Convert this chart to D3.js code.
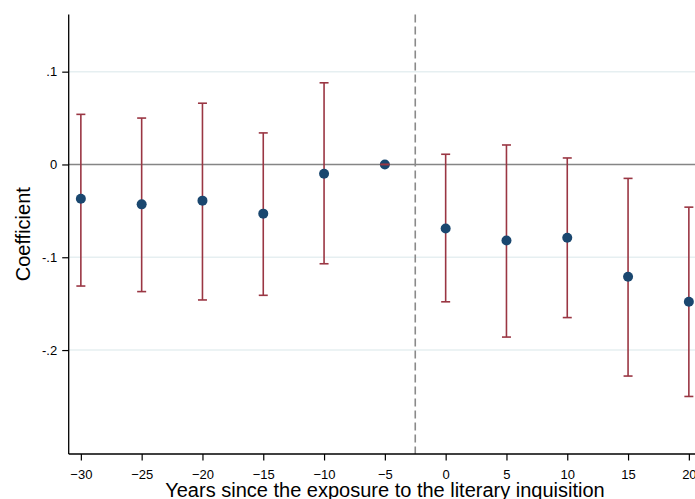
<!DOCTYPE html>
<html>
<head>
<meta charset="utf-8">
<script src="https://cdn.jsdelivr.net/npm/d3@7"></script>
<style>
  body { margin: 0; background: #fff; }
  text { font-family: "Liberation Sans", Arial, sans-serif; }
</style>
</head>
<body>
<div id="chart"></div>
<script>
// event-study estimates
const years  = [-30, -25, -20, -15, -10, -5, 0, 5, 10, 15, 20];
const coef   = [-0.037, -0.043, -0.039, -0.053, -0.010, 0, -0.069, -0.082, -0.079, -0.121, -0.148];
const ciLow  = [-0.131, -0.137, -0.146, -0.141, -0.107, 0, -0.148, -0.186, -0.165, -0.228, -0.250];
const ciHigh = [0.054, 0.050, 0.066, 0.034, 0.088, 0, 0.011, 0.021, 0.007, -0.015, -0.046];
const xTicks = [-30, -25, -20, -15, -10, -5, 0, 5, 10, 15, 20];
const yTicks = [0.1, 0, -0.1, -0.2];
const yTickLabels = ['.1', '0', '-.1', '-.2'];
const treatLine = -2.5;

const width = 695, height = 499;
const plotLeft = 68.7, plotTop = 14.5, plotBottom = 454;

const svg = d3.select('#chart').append('svg')
  .attr('width', width)
  .attr('height', height);

const x = d3.scaleLinear().domain([-31, 21]).range([plotLeft, plotLeft + 52 * 12.16]);
const y = d3.scaleLinear().domain([-0.312, 0.1616]).range([plotBottom, plotTop]);

const data = years.map((yr, i) => ({ year: yr, b: coef[i], lo: ciLow[i], hi: ciHigh[i] }));

// light gridlines
svg.append('g').selectAll('line')
  .data(yTicks.filter(d => d !== 0))
  .enter().append('line')
  .attr('x1', plotLeft).attr('x2', width)
  .attr('y1', d => y(d)).attr('y2', d => y(d))
  .attr('stroke', '#e6eff1').attr('stroke-width', 1.5);

// zero line
svg.append('line')
  .attr('x1', plotLeft).attr('x2', width)
  .attr('y1', y(0)).attr('y2', y(0))
  .attr('stroke', '#858585').attr('stroke-width', 1.6);

// dashed line at treatment
svg.append('line')
  .attr('x1', x(treatLine)).attr('x2', x(treatLine))
  .attr('y1', plotTop).attr('y2', plotBottom)
  .attr('stroke', '#8a8a8a').attr('stroke-width', 1.6)
  .attr('stroke-dasharray', '8,4');

const red = '#9a3643';

// CI spikes
svg.append('g').selectAll('line')
  .data(data)
  .enter().append('line')
  .attr('x1', d => x(d.year)).attr('x2', d => x(d.year))
  .attr('y1', d => y(d.lo)).attr('y2', d => y(d.hi))
  .attr('stroke', red).attr('stroke-width', 1.6);

// point estimates
svg.append('g').selectAll('circle')
  .data(data)
  .enter().append('circle')
  .attr('cx', d => x(d.year))
  .attr('cy', d => y(d.b))
  .attr('r', 5)
  .attr('fill', '#1a476f');

// caps
const caps = svg.append('g');
['lo', 'hi'].forEach(k => {
  caps.selectAll('line.' + k)
    .data(data)
    .enter().append('line')
    .attr('class', k)
    .attr('x1', d => x(d.year) - 4.5).attr('x2', d => x(d.year) + 4.5)
    .attr('y1', d => y(d[k])).attr('y2', d => y(d[k]))
    .attr('stroke', red).attr('stroke-width', 1.6);
});

// axes
const xAxis = svg.append('g')
  .attr('transform', `translate(0,${plotBottom})`)
  .call(d3.axisBottom(x).tickValues(xTicks).tickSize(6.5).tickSizeOuter(0).tickPadding(9));
xAxis.select('.domain').attr('stroke', '#000').attr('stroke-width', 1.3).attr('d', `M${plotLeft},0H${width}`);
xAxis.selectAll('.tick line').attr('stroke', '#000').attr('stroke-width', 1.2);
xAxis.selectAll('.tick text').attr('font-size', '13px').attr('fill', '#000')
  .attr('font-family', '"Liberation Sans", Arial, sans-serif');

const yAxis = svg.append('g')
  .attr('transform', `translate(${plotLeft},0)`)
  .call(d3.axisLeft(y).tickValues(yTicks).tickFormat((d, i) => yTickLabels[i]).tickSize(6.5).tickSizeOuter(0).tickPadding(5));
yAxis.select('.domain').attr('stroke', '#000').attr('stroke-width', 1.3).attr('d', `M0,${plotTop}V${plotBottom}`);
yAxis.selectAll('.tick line').attr('stroke', '#000').attr('stroke-width', 1.2);
yAxis.selectAll('.tick text').attr('font-size', '13px').attr('fill', '#000')
  .attr('font-family', '"Liberation Sans", Arial, sans-serif');

// axis titles
svg.append('text')
  .attr('x', 385).attr('y', 497)
  .attr('text-anchor', 'middle')
  .attr('font-size', '20px')
  .text('Years since the exposure to the literary inquisition');

svg.append('text')
  .attr('transform', `translate(29.5,${(plotTop + plotBottom) / 2}) rotate(-90)`)
  .attr('text-anchor', 'middle')
  .attr('font-size', '20px')
  .text('Coefficient');
</script>
</body>
</html>
